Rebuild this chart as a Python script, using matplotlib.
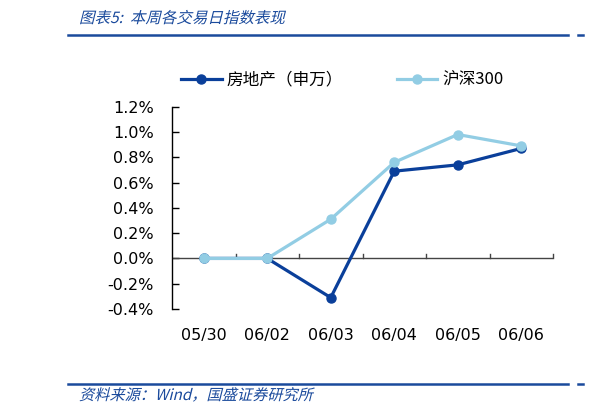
import numpy as np
import matplotlib.pyplot as plt
from matplotlib.ticker import FuncFormatter, FixedLocator
from matplotlib.textpath import TextPath
from matplotlib.patches import PathPatch
from matplotlib.font_manager import FontProperties
from matplotlib.transforms import Affine2D

plt.rcParams['font.family'] = ['Noto Sans CJK SC', 'DejaVu Sans']

dates = ['05/30', '06/02', '06/03', '06/04', '06/05', '06/06']
realestate = [0.0, 0.0, -0.31, 0.69, 0.74, 0.87]   # 房地产（申万）, %
hs300 = [0.0, 0.0, 0.31, 0.76, 0.98, 0.89]         # 沪深300, %

dark_blue = '#0A3F9A'
light_blue = '#92CDE4'
title_blue = '#1A4A9C'
W, H = 605, 416

fig = plt.figure(figsize=(6.05, 4.16), dpi=100)
ax = fig.add_axes([172/W, 1 - 309/H, (553-172)/W, (309-106.7)/H])

x = np.arange(len(dates))
ax.plot(x, realestate, color=dark_blue, lw=2.3, marker='o', ms=6.5, label='房地产（申万）', zorder=3)
ax.plot(x, hs300, color=light_blue, lw=2.3, marker='o', ms=6.5, label='沪深300', zorder=4)
ax.set_xlim(-0.5, 5.5)
ax.set_ylim(-0.4, 1.2)

ax.yaxis.set_major_locator(FixedLocator(np.arange(-0.4, 1.21, 0.2)))
ax.yaxis.set_major_formatter(FuncFormatter(lambda v, p: '%.1f%%' % v))
ax.tick_params(axis='y', direction='in', length=5, width=1, labelsize=11.5, pad=13)

for s in ['top', 'right', 'bottom']:
    ax.spines[s].set_visible(False)
ax.spines['left'].set_linewidth(1)
ax.axhline(0, color='#444444', lw=1, zorder=2)
for b in np.arange(0.5, 5.6, 1.0):
    ax.plot([b, b], [0, 0.035], color='#444444', lw=1, zorder=2, clip_on=False)

ax.set_xticks(x)
ax.set_xticklabels(dates)
ax.tick_params(axis='x', length=0, labelsize=11.5, pad=14)
for lab in ax.get_xticklabels() + ax.get_yticklabels():
    lab.set_family('DejaVu Sans')

leg = fig.legend(loc='center left', bbox_to_anchor=(181/W, 1 - 80/H), ncol=2,
                 frameon=False, fontsize=12, handlelength=2.45, columnspacing=3.2,
                 handletextpad=0.3, borderpad=0, borderaxespad=0)


def slanted_text(s, x_px, y_px, size_px):
    fp = FontProperties(family='Noto Sans CJK SC')
    tp = TextPath((0, 0), s, size=size_px, prop=fp)
    tr = (Affine2D().skew_deg(14, 0).translate(x_px, H - y_px)
          + Affine2D().scale(1 / W, 1 / H) + fig.transFigure)
    fig.add_artist(PathPatch(tp, transform=tr, facecolor=title_blue, edgecolor='none'))


# header / footer
slanted_text('图表5:  本周各交易日指数表现', 79, 23, 15.5)
slanted_text('资料来源：Wind，国盛证券研究所', 79, 400, 15.2)
for yy in (35, 384):
    fig.add_artist(plt.Line2D([68/W, 568/W], [1 - yy/H] * 2, color=title_blue, lw=1.8))
    fig.add_artist(plt.Line2D([578/W, 583/W], [1 - yy/H] * 2, color=title_blue, lw=1.8))

fig.savefig('out.png', dpi=100)
